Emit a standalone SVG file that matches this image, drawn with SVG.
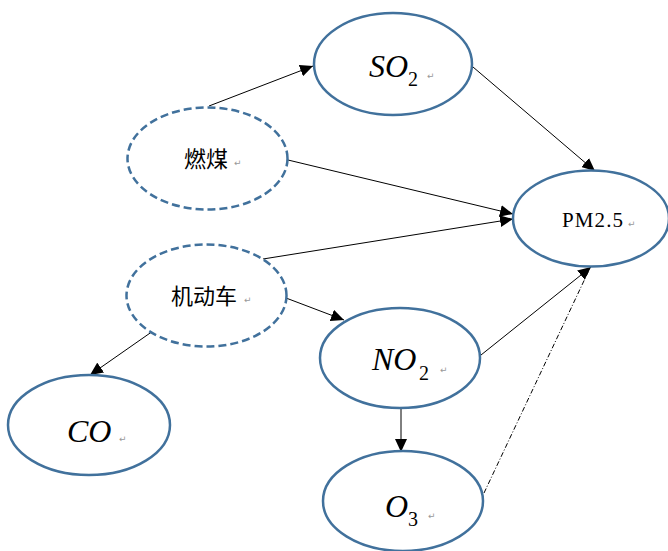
<svg xmlns="http://www.w3.org/2000/svg" width="668" height="551" viewBox="0 0 668 551">
  <defs>
    <marker id="arrow" markerUnits="userSpaceOnUse" markerWidth="14" markerHeight="12" refX="13" refY="6" orient="auto">
      <path d="M0,0 L13,6 L0,12 Z" fill="#000"/>
    </marker>
    <style>
      .node { fill: #fff; stroke: #41719C; stroke-width: 2.5; }
      .dashed { stroke-dasharray: 8 4; }
      .edge { stroke: #000; stroke-width: 1; fill: none; }
      .dashdot { stroke-dasharray: 5 2 1 2; }
      .formula { font-family: "Liberation Serif", serif; font-style: italic; fill: #000; }
      .sub { font-family: "Liberation Serif", serif; font-style: normal; fill: #000; font-size: 20px; }
      .cjk { font-family: "Noto Sans CJK SC", "Noto Sans CJK JP", serif; fill: #000; font-size: 22px; }
      .ret { font-family: "DejaVu Sans", sans-serif; fill: #999; font-size: 9px; }
    </style>
  </defs>
  <rect width="668" height="551" fill="#fff"/>

  <g id="connectors">
    <line class="edge" x1="209" y1="106" x2="313" y2="66" marker-end="url(#arrow)"/>
    <line class="edge" x1="288" y1="160" x2="513" y2="214" marker-end="url(#arrow)"/>
    <line class="edge" x1="263" y1="259" x2="513" y2="219" marker-end="url(#arrow)"/>
    <line class="edge" x1="286" y1="298" x2="344" y2="320" marker-end="url(#arrow)"/>
    <line class="edge" x1="153" y1="331" x2="90" y2="375" marker-end="url(#arrow)"/>
    <line class="edge" x1="473" y1="67" x2="595" y2="171" marker-end="url(#arrow)"/>
    <line class="edge" x1="481" y1="355" x2="591" y2="267" marker-end="url(#arrow)"/>
    <line class="edge" x1="401" y1="408" x2="401" y2="452" marker-end="url(#arrow)"/>
    <line class="edge dashdot" x1="484" y1="493" x2="590" y2="268"/>
  </g>

  <g id="so2">
    <ellipse class="node" cx="393" cy="64" rx="79" ry="51"/>
    <text class="formula" x="369" y="77" font-size="32">SO</text>
    <text class="sub" x="408" y="86">2</text>
    <text class="ret" x="427" y="79">↵</text>
  </g>

  <g id="coal">
    <ellipse class="node dashed" cx="207.5" cy="158.5" rx="80" ry="51"/>
    <text class="cjk" x="184" y="167">燃煤</text>
    <text class="ret" x="234" y="166">↵</text>
  </g>

  <g id="vehicle">
    <ellipse class="node dashed" cx="206.5" cy="295.5" rx="80" ry="51"/>
    <text class="cjk" x="171" y="304">机动车</text>
    <text class="ret" x="244" y="303">↵</text>
  </g>

  <g id="pm25">
    <ellipse class="node" cx="591" cy="218.5" rx="78" ry="48"/>
    <text x="562" y="227" font-family="Liberation Serif, serif" font-size="21" textLength="61" lengthAdjust="spacing" fill="#000">PM2.5</text>
    <text class="ret" x="628" y="227">↵</text>
  </g>

  <g id="no2">
    <ellipse class="node" cx="400" cy="358" rx="80" ry="50"/>
    <text class="formula" x="372" y="370" font-size="32">NO</text>
    <text class="sub" x="419" y="380">2</text>
    <text class="ret" x="440" y="373">↵</text>
  </g>

  <g id="o3">
    <ellipse class="node" cx="403" cy="501" rx="80" ry="50"/>
    <text class="formula" x="385" y="517" font-size="32">O</text>
    <text class="sub" x="408" y="526">3</text>
    <text class="ret" x="428" y="519">↵</text>
  </g>

  <g id="co">
    <ellipse class="node" cx="89" cy="425" rx="81" ry="50"/>
    <text class="formula" x="67" y="442" font-size="32">CO</text>
    <text class="ret" x="119" y="442">↵</text>
  </g>
</svg>
